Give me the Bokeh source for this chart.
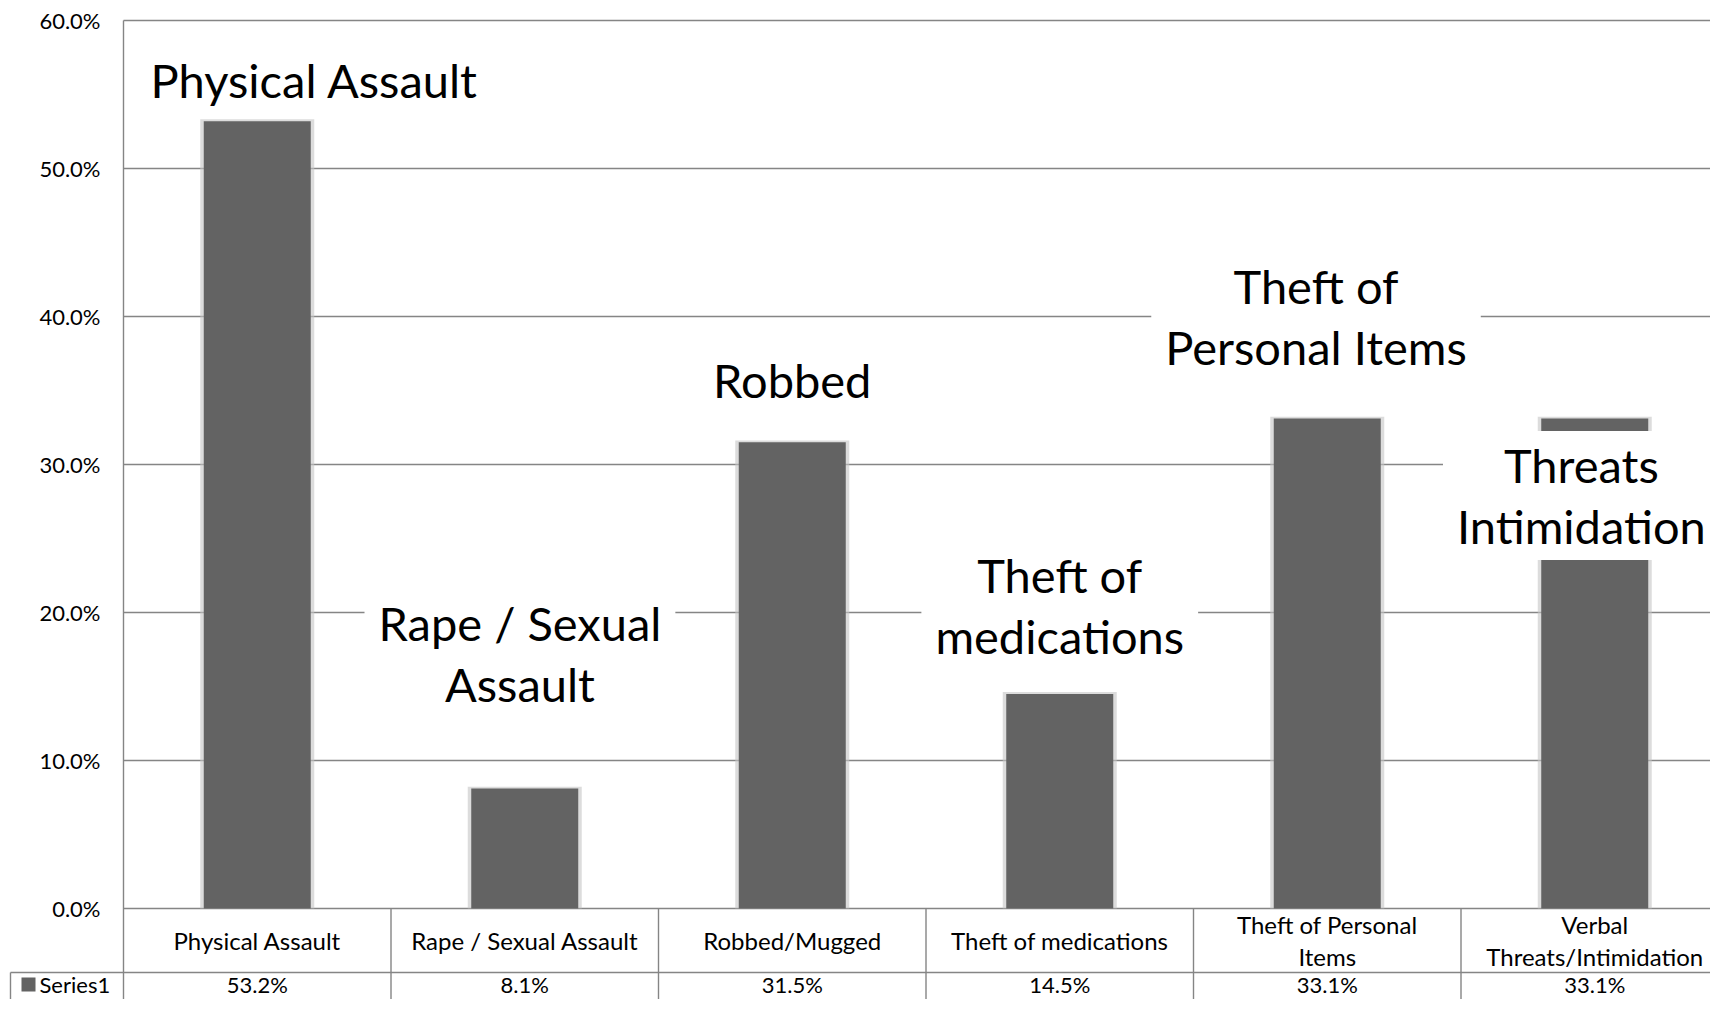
from bokeh.plotting import figure
from bokeh.models import Range1d, FixedTicker, PrintfTickFormatter
from bokeh.core.properties import value
from bokeh.embed import file_html
from bokeh.resources import INLINE

# ---- data ----
categories = ["Physical Assault", "Rape / Sexual Assault", "Robbed/Mugged",
              "Theft of medications", "Theft of Personal\nItems",
              "Verbal\nThreats/Intimidation"]
values = [53.2, 8.1, 31.5, 14.5, 33.1, 33.1]
value_labels = ["53.2%", "8.1%", "31.5%", "14.5%", "33.1%", "33.1%"]
data_labels = ["Physical Assault", "Rape / Sexual\nAssault", "Robbed",
               "Theft of\nmedications", "Theft of\nPersonal Items",
               "Threats\nIntimidation"]
y_ticks = [0, 10, 20, 30, 40, 50, 60]
series_name = "Series1"

# ---- layout (positions of annotations, not data) ----
label_dx = [0.214, -0.018, 0.0, 0.0, -0.042, -0.05]
label_y = [56.0, 17.26, 35.7, 20.47, 40.0, 27.9]

FONT = value("Lato")
W, H = 1710, 999
PX_PER_CAT = 267.5
PX_PER_UNIT = 14.8
LEFT_PX = 123
TOP_PX = 20
x_start = -LEFT_PX / PX_PER_CAT
x_end = (W - LEFT_PX) / PX_PER_CAT
y_end = 60 + TOP_PX / PX_PER_UNIT
y_start = y_end - H / PX_PER_UNIT


def px_down(px):
    return -px / PX_PER_UNIT


row_split = px_down(64)
cat_row_y = px_down(32)
val_row_y = px_down(76)
table_left = -113 / PX_PER_CAT

centers = [i + 0.5 for i in range(len(categories))]

p = figure(width=W, height=H, output_backend="svg", toolbar_location=None,
           x_range=Range1d(x_start, x_end), y_range=Range1d(y_start, y_end),
           min_border=0, outline_line_color=None)
p.xaxis.visible = False
p.xgrid.visible = False
p.ygrid.visible = False

GRID = "#858585"
LW = 1.4
# gridlines
p.segment(x0=[0] * len(y_ticks), x1=[x_end] * len(y_ticks), y0=y_ticks, y1=y_ticks,
          line_color=GRID, line_width=LW)
# vertical axis / table borders
p.segment(x0=[0], x1=[0], y0=[max(y_ticks)], y1=[y_start], line_color=GRID, line_width=LW)
n_inner = len(categories) - 1
p.segment(x0=list(range(1, len(categories))), x1=list(range(1, len(categories))),
          y0=[0] * n_inner, y1=[y_start] * n_inner, line_color=GRID, line_width=LW)
p.segment(x0=[table_left], x1=[table_left], y0=[row_split], y1=[y_start],
          line_color=GRID, line_width=LW)
p.segment(x0=[table_left], x1=[x_end], y0=[row_split], y1=[row_split],
          line_color=GRID, line_width=LW)

# bars with soft shadow
p.vbar(x=centers, top=[v + 0.12 for v in values], width=0.4 + 7 / PX_PER_CAT,
       fill_color="#c4c4c4", fill_alpha=0.6, line_color=None)
p.vbar(x=centers, top=values, width=0.4, fill_color="#636363", line_color=None)

# data labels
p.text(x=[c + d for c, d in zip(centers, label_dx)], y=label_y, text=data_labels,
       text_font=FONT, text_font_size="47px", text_color="black",
       text_align="center", text_baseline="middle", text_line_height=1.09,
       background_fill_color="white", padding=(14, 6))

# table text
p.text(x=centers, y=[cat_row_y] * len(categories), text=categories,
       text_font=FONT, text_font_size="24px", text_color="black",
       text_align="center", text_baseline="middle", text_line_height=1.12)
p.text(x=centers, y=[val_row_y] * len(categories), text=value_labels,
       text_font=FONT, text_font_size="22px", text_color="black",
       text_align="center", text_baseline="middle")
p.scatter(x=[-95 / PX_PER_CAT], y=[val_row_y], marker="square", size=14,
          fill_color="#636363", line_color=None)
p.text(x=[-84 / PX_PER_CAT], y=[val_row_y], text=[series_name],
       text_font=FONT, text_font_size="22px", text_color="black",
       text_align="left", text_baseline="middle")

# y axis inside the frame
ax = p.yaxis[0]
ax.fixed_location = 0
ax.ticker = FixedTicker(ticks=y_ticks)
ax.formatter = PrintfTickFormatter(format="%.1f%%")
ax.axis_line_color = None
ax.major_tick_line_color = None
ax.minor_tick_line_color = None
ax.major_label_standoff = 17
ax.major_label_text_font = "Lato"
ax.major_label_text_font_size = "22px"
ax.major_label_text_color = "black"

open("out.html", "w").write(file_html(p, INLINE))
